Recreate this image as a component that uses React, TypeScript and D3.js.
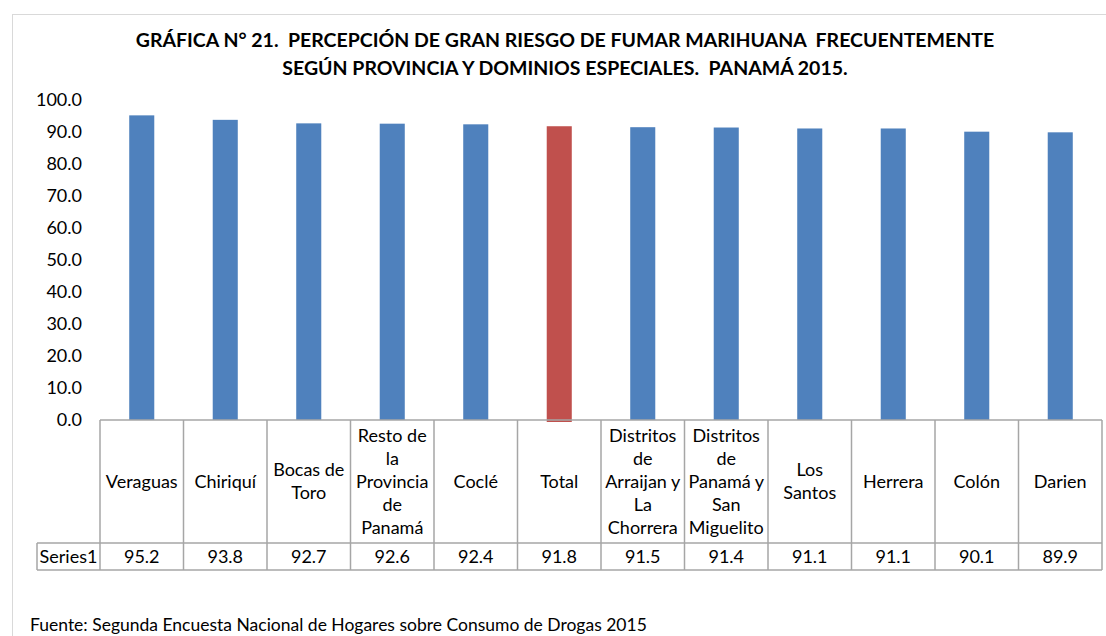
import React from "react";
import * as d3 from "d3";

const categories: string[][] = [
  ["Veraguas"],
  ["Chiriquí"],
  ["Bocas de", "Toro"],
  ["Resto de", "la", "Provincia", "de", "Panamá"],
  ["Coclé"],
  ["Total"],
  ["Distritos", "de", "Arraijan y", "La", "Chorrera"],
  ["Distritos", "de", "Panamá y", "San", "Miguelito"],
  ["Los", "Santos"],
  ["Herrera"],
  ["Colón"],
  ["Darien"],
];
const values: number[] = [95.2, 93.8, 92.7, 92.6, 92.4, 91.8, 91.5, 91.4, 91.1, 91.1, 90.1, 89.9];
const highlight = "Total";
const yTicks: number[] = [0, 10, 20, 30, 40, 50, 60, 70, 80, 90, 100];
const seriesName = "Series1";
const titleLines = [
  "GRÁFICA N° 21.  PERCEPCIÓN DE GRAN RIESGO DE FUMAR MARIHUANA  FRECUENTEMENTE",
  "SEGÚN PROVINCIA Y DOMINIOS ESPECIALES.  PANAMÁ 2015.",
];
const source = "Fuente: Segunda Encuesta Nacional de Hogares sobre Consumo de Drogas 2015";

export default function App() {
  const W = 1106, H = 636;
  const left = 100, right = 1102, top = 100, bottom = 420;
  const headerBottom = 543, rowBottom = 570, seriesLeft = 37;
  const font = "Lato, 'Open Sans', sans-serif";
  const keys = categories.map((c) => c.join(" "));
  const x = d3.scaleBand<string>().domain(keys).range([left, right]).padding(0);
  const y = d3.scaleLinear().domain([0, 100]).range([bottom, top]);
  const bw = x.bandwidth() * 0.3;
  const grid = "#a6a6a6";
  const lineH = 23;
  const fs = 18;

  return (
    <svg width={W} height={H} style={{ position: "absolute", left: 0, top: 0, background: "#fff" }} fontFamily={font}>
      <rect x={12.5} y={14.5} width={1100} height={640} fill="#fff" stroke="#d9d9d9" />
      {titleLines.map((t, i) => (
        <text key={i} x={565} y={47 + i * 28} textAnchor="middle" fontSize={19.5} fontWeight="bold" fill="#000" style={{ whiteSpace: "pre" }}>
          {t}
        </text>
      ))}
      {yTicks.map((t) => (
        <text key={t} x={82} y={y(t)} dy="0.35em" textAnchor="end" fontSize={fs} fill="#000">
          {t.toFixed(1)}
        </text>
      ))}
      {keys.map((k, i) => {
        const cx = (x(k) as number) + x.bandwidth() / 2;
        return (
          <rect
            key={k}
            x={cx - bw / 2}
            y={y(values[i])}
            width={bw}
            height={bottom - y(values[i]) + (k === highlight ? 2 : 0)}
            fill={k === highlight ? "#C0504D" : "#4F81BD"}
          />
        );
      })}
      <line x1={left} x2={right} y1={bottom} y2={bottom} stroke={grid} strokeWidth={1.5} />
      <line x1={seriesLeft} x2={right} y1={headerBottom} y2={headerBottom} stroke={grid} strokeWidth={1.5} />
      <line x1={seriesLeft} x2={right} y1={rowBottom} y2={rowBottom} stroke={grid} strokeWidth={1.5} />
      <line x1={seriesLeft} x2={seriesLeft} y1={headerBottom} y2={rowBottom} stroke={grid} strokeWidth={1.5} />
      {[...keys.map((k) => x(k) as number), right].map((xx, i) => (
        <line key={i} x1={xx} x2={xx} y1={bottom} y2={rowBottom} stroke={grid} strokeWidth={1.5} />
      ))}
      {categories.map((lines, i) => {
        const cx = (x(keys[i]) as number) + x.bandwidth() / 2;
        const mid = (bottom + headerBottom) / 2;
        const start = mid - ((lines.length - 1) * lineH) / 2;
        return (
          <text key={i} textAnchor="middle" fontSize={fs} fill="#000">
            {lines.map((l, j) => (
              <tspan key={j} x={cx} y={start + j * lineH} dy="0.35em">
                {l}
              </tspan>
            ))}
          </text>
        );
      })}
      <text x={(seriesLeft + left) / 2} y={(headerBottom + rowBottom) / 2} dy="0.35em" textAnchor="middle" fontSize={fs}>
        {seriesName}
      </text>
      {values.map((v, i) => (
        <text
          key={i}
          x={(x(keys[i]) as number) + x.bandwidth() / 2}
          y={(headerBottom + rowBottom) / 2}
          dy="0.35em"
          textAnchor="middle"
          fontSize={fs}
        >
          {v.toFixed(1)}
        </text>
      ))}
      <text x={30} y={631} fontSize={17.5} fill="#000">
        {source}
      </text>
    </svg>
  );
}
